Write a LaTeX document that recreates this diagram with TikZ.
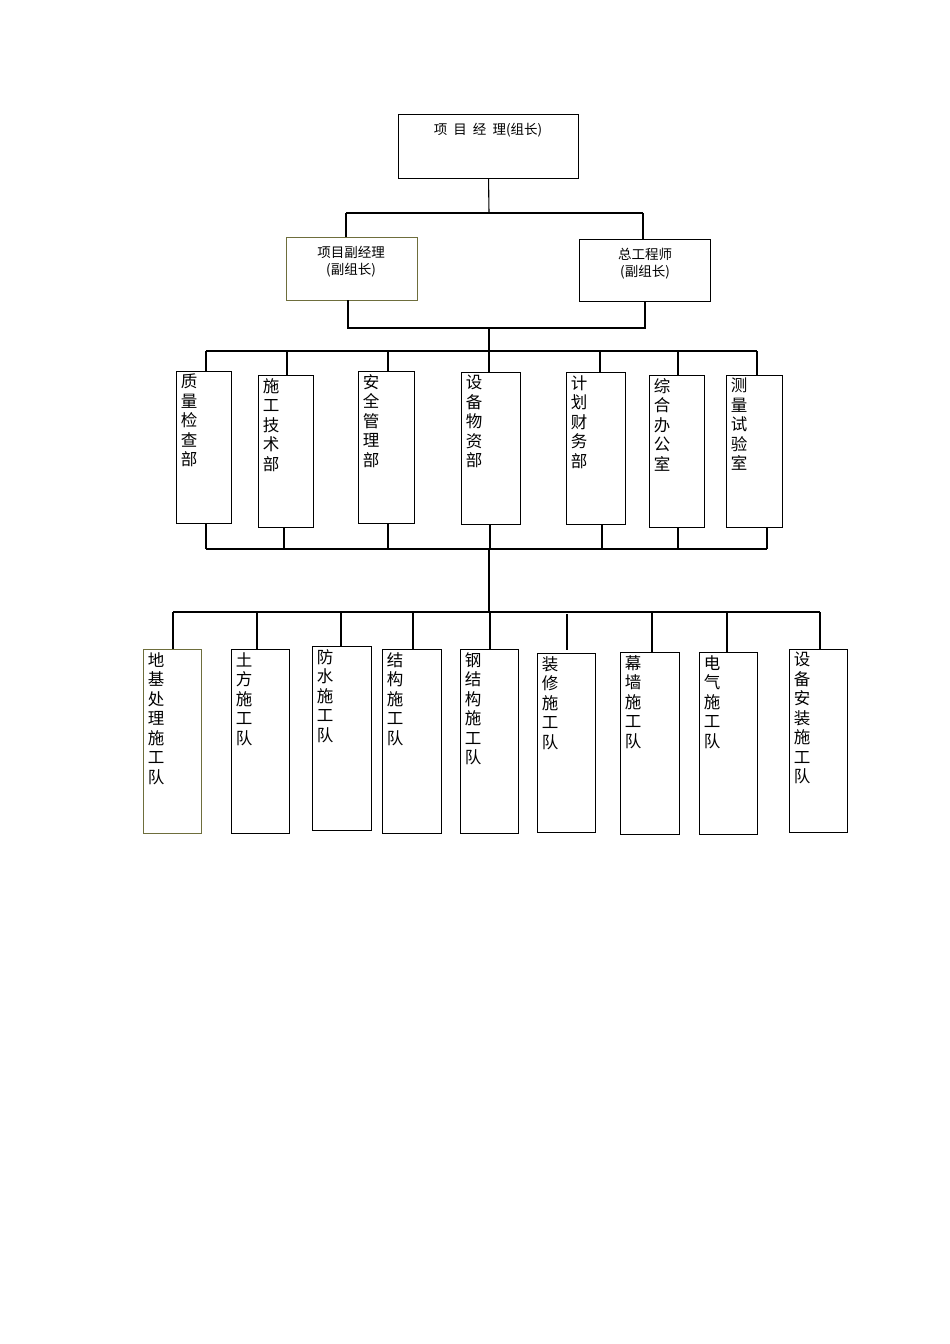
\documentclass[tikz,border=0pt]{standalone}
\usepackage{fontspec}
\setmainfont{Noto Sans CJK SC}
\definecolor{olive1}{RGB}{110,110,60}
\tikzset{box/.style={draw,line width=1.1pt,inner sep=0pt,anchor=north west},
 vtext/.style={anchor=north west,inner sep=0pt,align=center,text width=18pt,font=\fontsize{16.5}{19.5}\selectfont},
 htext/.style={inner sep=0pt,align=center,font=\fontsize{13.5}{17}\selectfont},
 ln/.style={line width=1.1pt}}
\newcommand{\orgbox}[7][black]{%
 \node[box,draw=#1,minimum width=#4-#2,minimum height=#5-#3] (#6) at (#2,#3) {};
 \node[vtext] (#6t) at (#2+4,#3+3) {#7};}
\begin{document}
\begin{tikzpicture}[x=1pt,y=-1pt]
\useasboundingbox (0,0) rectangle (950,1344);
% top
\node[box,minimum width=180,minimum height=64] (pm) at (398,114) {};
\node[htext] (pmt) at (488,130) {项\ \ 目\ \ 经\ \ 理(组长)};
\node[box,draw=olive1,minimum width=131,minimum height=63] (dep) at (286,237) {};
\node[htext] (dept) at (351,262) {项目副经理\\(副组长)};
\node[box,minimum width=131,minimum height=62] (ce) at (579,239) {};
\node[htext] (cet) at (645,264) {总工程师\\(副组长)};
\coordinate (j1) at (489,213);
\draw[ln] (pm.south) -- (j1);
\draw[ln] (346,213) -- (643,213);
\draw[ln] (346,213) -- (346,237);
\draw[ln] (643,213) -- (643,239);
\draw[ln] (348,300) -- (348,328) -- (645,328) -- (645,301);
\draw[ln] (489,328) -- (489,351);
\draw[ln] (206,351) -- (757,351);
% departments
\orgbox{176}{371}{231}{523}{d1}{质\\量\\检\\查\\部}
\orgbox{258}{375}{313}{527}{d2}{施\\工\\技\\术\\部}
\orgbox{358}{371}{414}{523}{d3}{安\\全\\管\\理\\部}
\orgbox{461}{372}{520}{524}{d4}{设\\备\\物\\资\\部}
\orgbox{566}{372}{625}{524}{d5}{计\\划\\财\\务\\部}
\orgbox{649}{375}{704}{527}{d6}{综\\合\\办\\公\\室}
\orgbox{726}{375}{782}{527}{d7}{测\\量\\试\\验\\室}
\foreach \x/\y in {206/371,287/375,388/371,489/372,600/372,678/375,757/375}
 \draw[ln] (\x,351) -- (\x,\y);
\foreach \x/\y in {206/523,284/527,388/523,490/524,602/524,678/527,767/527}
 \draw[ln] (\x,\y) -- (\x,549);
\draw[ln] (206,549) -- (767,549);
\draw[ln] (489,549) -- (489,612);
\draw[ln] (173,612) -- (820,612);
% teams
\orgbox[olive1]{143}{649}{201}{833}{t1}{地\\基\\处\\理\\施\\工\\队}
\orgbox{231}{649}{289}{833}{t2}{土\\方\\施\\工\\队}
\orgbox{312}{646}{371}{830}{t3}{防\\水\\施\\工\\队}
\orgbox{382}{649}{441}{833}{t4}{结\\构\\施\\工\\队}
\orgbox{460}{649}{518}{833}{t5}{钢\\结\\构\\施\\工\\队}
\orgbox{537}{653}{595}{832}{t6}{装\\修\\施\\工\\队}
\orgbox{620}{652}{679}{834}{t7}{幕\\墙\\施\\工\\队}
\orgbox{699}{652}{757}{834}{t8}{电\\气\\施\\工\\队}
\orgbox{789}{649}{847}{832}{t9}{设\\备\\安\\装\\施\\工\\队}
\foreach \x/\y in {173/649,257/649,341/646,413/649,490/649,652/652,727/652,820/649}
 \draw[ln] (\x,612) -- (\x,\y);
\draw[ln] (567,614) -- (567,650);
\end{tikzpicture}
\end{document}
